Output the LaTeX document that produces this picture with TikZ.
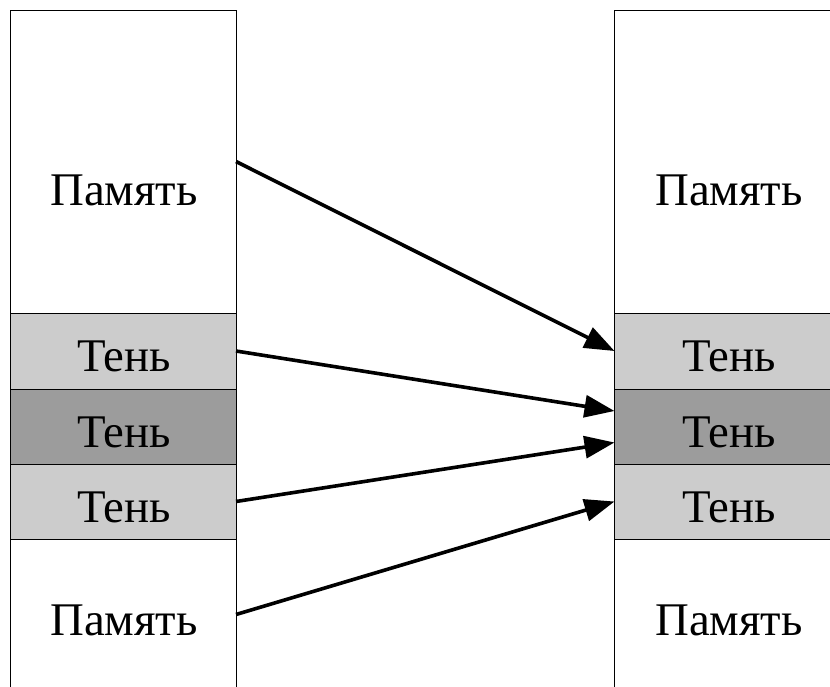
\documentclass[tikz,border=0pt]{standalone}
\usepackage{fontspec}
\setmainfont{Liberation Serif}
\usetikzlibrary{arrows.meta}
\definecolor{shadelight}{RGB}{204,204,204}
\definecolor{shadedark}{RGB}{156,156,156}
\newcommand{\memtext}{Память}
\newcommand{\shadowtext}{Тень}
\begin{document}
\begin{tikzpicture}[x=0.5pt,y=-0.5pt,
  cell/.style={rectangle, draw=black, line width=0.5pt, inner sep=0pt, outer sep=0pt,
    minimum width=113pt, anchor=north west},
  memcell/.style={cell, fill=white},
  lightcell/.style={cell, fill=shadelight},
  darkcell/.style={cell, fill=shadedark},
  lbl/.style={inner sep=0pt, anchor=base, font=\fontsize{23.4}{28}\selectfont},
  arr/.style={-{Triangle[length=15pt,width=11pt]}, line width=1.8pt, black}]
\useasboundingbox (0,0) rectangle (830,686);
\clip (0,0) rectangle (830,686);

% left column
\node[memcell,   minimum height=151.5pt] (lmem1) at (10,10)  {};
\node[lightcell, minimum height=38pt]    (lsh1)  at (10,313) {};
\node[darkcell,  minimum height=37.5pt]  (lsh2)  at (10,389) {};
\node[lightcell, minimum height=37.5pt]  (lsh3)  at (10,464) {};
\node[memcell,   minimum height=75.5pt]  (lmem2) at (10,539) {};

% right column
\node[memcell,   minimum height=151.5pt] (rmem1) at (614.5,10)  {};
\node[lightcell, minimum height=38pt]    (rsh1)  at (614.5,313) {};
\node[darkcell,  minimum height=37.5pt]  (rsh2)  at (614.5,389) {};
\node[lightcell, minimum height=37.5pt]  (rsh3)  at (614.5,464) {};
\node[memcell,   minimum height=75.5pt]  (rmem2) at (614.5,539) {};

% labels
\node[lbl] (lmemtxt1) at (124,205) {\memtext};
\node[lbl] (lshtxt1)  at (124,371) {\shadowtext};
\node[lbl] (lshtxt2)  at (124,447) {\shadowtext};
\node[lbl] (lshtxt3)  at (124,522) {\shadowtext};
\node[lbl] (lmemtxt2) at (124,635) {\memtext};
\node[lbl] (rmemtxt1) at (729,205) {\memtext};
\node[lbl] (rshtxt1)  at (729,371) {\shadowtext};
\node[lbl] (rshtxt2)  at (729,447) {\shadowtext};
\node[lbl] (rshtxt3)  at (729,522) {\shadowtext};
\node[lbl] (rmemtxt2) at (729,635) {\memtext};

% mapping arrows
\draw[arr] (lmem1.east) -- (rsh1.west);
\draw[arr] (lsh1.east)  -- ([yshift=7.75pt]rsh2.west);
\draw[arr] (lsh3.east)  -- ([yshift=-8pt]rsh2.west);
\draw[arr] (lmem2.east) -- (rsh3.west);
\end{tikzpicture}
\end{document}
